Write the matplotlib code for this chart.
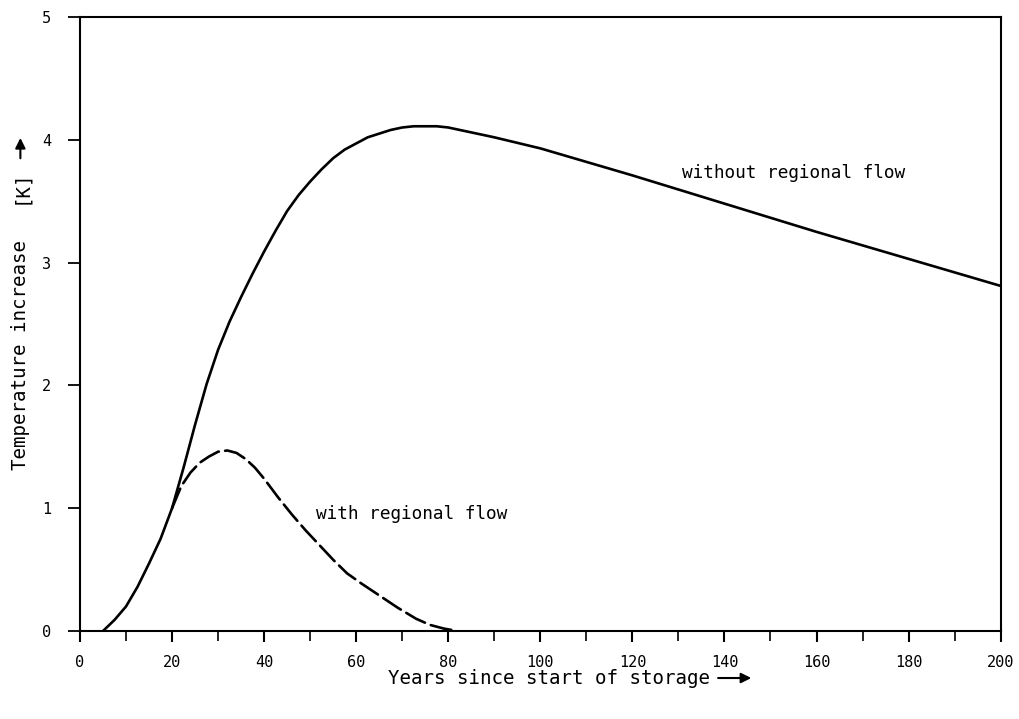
import matplotlib.pyplot as plt

# solid curve: without regional flow
years_without = [5, 7.5, 10, 12.5, 15, 17.5, 20, 22.5, 25, 27.5, 30, 32.5, 35, 37.5, 40,
                 42.5, 45, 47.5, 50, 52.5, 55, 57.5, 60, 62.5, 65, 67.5, 70, 72.5, 75,
                 77.5, 80, 85, 90, 100, 110, 120, 140, 160, 180, 200]
temp_without = [0.0, 0.09, 0.2, 0.36, 0.55, 0.75, 1.0, 1.33, 1.68, 2.01, 2.29, 2.52, 2.72, 2.91, 3.09,
                3.26, 3.42, 3.55, 3.66, 3.76, 3.85, 3.92, 3.97, 4.02, 4.05, 4.08, 4.1, 4.11, 4.11,
                4.11, 4.1, 4.06, 4.02, 3.93, 3.82, 3.71, 3.48, 3.25, 3.03, 2.81]

# dashed curve: with regional flow
years_with = [20, 22, 24, 26, 28, 30, 32, 34, 36, 38, 40, 43, 46, 49, 52, 55, 58, 61, 65,
              69, 73, 76, 79, 82]
temp_with = [1.0, 1.18, 1.29, 1.37, 1.42, 1.46, 1.47, 1.45, 1.4, 1.33, 1.24, 1.09, 0.95, 0.82,
             0.7, 0.58, 0.47, 0.39, 0.29, 0.19, 0.1, 0.05, 0.02, 0.0]

x_major = [0, 20, 40, 60, 80, 100, 120, 140, 160, 180, 200]
x_minor = [10, 30, 50, 70, 90, 110, 130, 150, 170, 190]
y_ticks = [0, 1, 2, 3, 4, 5]

plt.rcParams['font.family'] = ['DejaVu Sans Mono']

fig = plt.figure(figsize=(10.19, 7.19), dpi=100)
ax = fig.add_axes([0.0785, 0.1224, 0.9035, 0.854])

ax.plot(years_without, temp_without, color='black', lw=1.9, solid_joinstyle='round')
ax.plot(years_with, temp_with, color='black', lw=1.9, dashes=(8, 2.4), dash_capstyle='round')

ax.set_xlim(0, 200)
ax.set_ylim(0, 5)
ax.set_xticks(x_major)
ax.set_xticks(x_minor, minor=True)
ax.set_yticks(y_ticks)

for s in ax.spines.values():
    s.set_linewidth(1.5)

ax.tick_params(axis='y', direction='out', length=9, width=1.3, pad=12, labelsize=11)
ax.tick_params(axis='x', which='major', direction='out', length=8, width=1.5, pad=9, labelsize=11)
ax.tick_params(axis='x', which='minor', direction='out', length=7, width=1.2)

ax.text(130.8, 3.73, 'without regional flow', fontsize=12.8, va='center', ha='left')
ax.text(51.2, 0.95, 'with regional flow', fontsize=12.8, va='center', ha='left')

# axis labels with arrows
fig.text(0.02, 0.506, 'Temperature increase', rotation=90, fontsize=13.8,
         ha='center', va='center')
fig.text(0.02, 0.74, '[K]', rotation=90, fontsize=13.8, ha='center', va='center')
fig.text(0.3805, 0.057, 'Years since start of storage', fontsize=13.8, ha='left', va='center')

ax.annotate('', xy=(0.02, 0.812), xytext=(0.02, 0.776), xycoords='figure fraction',
            arrowprops=dict(arrowstyle='-|>', color='black', lw=1.5, mutation_scale=15))
ax.annotate('', xy=(0.74, 0.057), xytext=(0.702, 0.057), xycoords='figure fraction',
            arrowprops=dict(arrowstyle='-|>', color='black', lw=1.5, mutation_scale=15))

fig.savefig('out.png', dpi=100)
